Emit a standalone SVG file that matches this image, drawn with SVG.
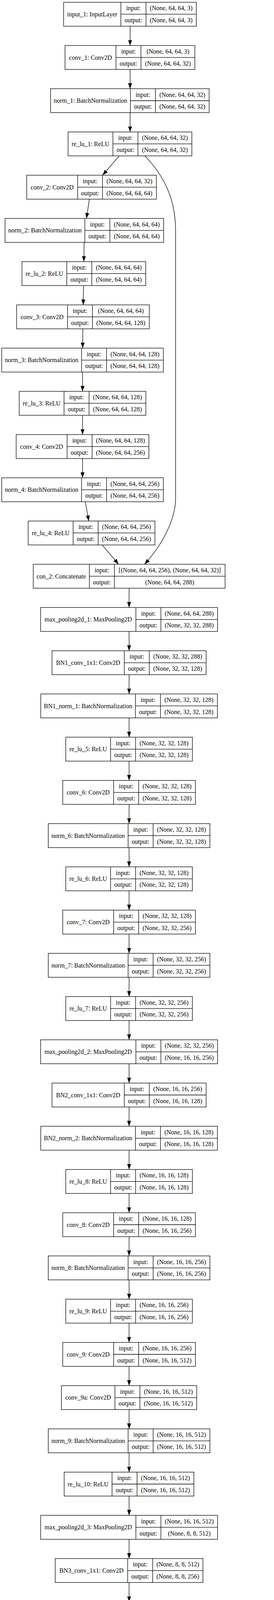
<svg xmlns="http://www.w3.org/2000/svg" width="701" height="6935" viewBox="0 0 701 6935">
<style>
.node rect{fill:#fff;stroke:#000;stroke-width:1.3}
.node path{fill:none;stroke:#000;stroke-width:1.3}
text{font-family:"Liberation Serif","Times New Roman",serif;font-size:16px;text-anchor:middle;fill:#000}
#edges path{fill:none;stroke:#000;stroke-width:1.3;marker-end:url(#arr)}
</style>
<defs>
<marker id="arr" viewBox="0 0 14 10" refX="14" refY="5" markerWidth="14" markerHeight="10" markerUnits="userSpaceOnUse" orient="auto"><path d="M0,0 L14,5 L0,10 z" fill="#000"/></marker>
</defs>
<rect x="0" y="0" width="701" height="6935" fill="#fff"/>
<g id="edges">
<path d="M332.8,67.1 V116.5"/>
<path d="M332.8,177.8 V227.1"/>
<path d="M332.8,288.4 V337.8"/>
<path d="M305.1,399.1 L262.6,448.5"/>
<path d="M370.6,399.1 C420,450 449.3,510 449.3,590 L449.3,1275 C449.3,1330 415,1395 369.8,1444.5"/>
<path d="M228.6,509.8 L221.2,559.2"/>
<path d="M215.2,620.5 L214.5,669.8"/>
<path d="M213.8,731.1 L213,780.5"/>
<path d="M211.9,841.8 L211.5,891.2"/>
<path d="M211.2,952.5 V1001.8"/>
<path d="M211.2,1063.1 V1112.5"/>
<path d="M211.2,1173.8 V1223.2"/>
<path d="M218.2,1284.5 L227.1,1333.8"/>
<path d="M261.5,1395.1 L303.3,1444.5"/>
<path d="M330.3,1505.8 V1555.2"/>
<path d="M330.3,1616.5 V1665.9"/>
<path d="M330.3,1727.2 V1776.5"/>
<path d="M330.3,1837.8 V1887.2"/>
<path d="M330.3,1948.5 V1997.9"/>
<path d="M330.3,2059.2 V2108.5"/>
<path d="M330.3,2169.8 V2219.2"/>
<path d="M330.3,2280.5 V2329.9"/>
<path d="M330.3,2391.2 V2440.5"/>
<path d="M330.3,2501.8 V2551.2"/>
<path d="M330.3,2612.5 V2661.9"/>
<path d="M330.3,2723.2 V2772.6"/>
<path d="M330.3,2833.9 V2883.2"/>
<path d="M330.3,2944.5 V2993.9"/>
<path d="M330.3,3055.2 V3104.6"/>
<path d="M330.3,3165.9 V3215.2"/>
<path d="M330.3,3276.5 V3325.9"/>
<path d="M330.3,3387.2 V3436.6"/>
<path d="M330.3,3497.9 V3547.2"/>
<path d="M330.3,3608.5 V3657.9"/>
<path d="M330.3,3719.2 V3768.6"/>
<path d="M330.3,3829.9 V3879.3"/>
<path d="M330.3,3940.6 V3989.9"/>
<path d="M330.3,4051.2 V4100.6"/>
<path d="M330.3,4161.9 V4211.3"/>
<path d="M303.3,4272.6 L260.7,4321.9"/>
<path d="M368.7,4272.6 C415,4320 447.3,4380 447.3,4460 L447.3,4925 C447.3,4985 415,5045 366.1,5096.6"/>
<path d="M226.3,4383.2 L219.7,4432.6"/>
<path d="M213.8,4493.9 V4543.3"/>
<path d="M213.8,4604.6 V4653.9"/>
<path d="M214.5,4715.2 V4764.6"/>
<path d="M214.5,4825.9 V4875.3"/>
<path d="M221.2,4936.6 L229.3,4985.9"/>
<path d="M262.6,5047.2 L303.3,5096.6"/>
<path d="M330.3,5157.9 V5207.3"/>
<path d="M330.3,5268.6 V5318.0"/>
<path d="M330.3,5379.3 V5428.6"/>
<path d="M330.3,5489.9 V5539.3"/>
<path d="M330.3,5600.6 V5650.0"/>
<path d="M330.3,5711.3 V5760.6"/>
<path d="M330.3,5821.9 V5871.3"/>
<path d="M330.3,5932.6 V5982.0"/>
<path d="M330.3,6043.3 V6092.6"/>
<path d="M330.3,6153.9 V6203.3"/>
<path d="M330.3,6264.6 V6314.0"/>
<path d="M330.3,6375.3 V6424.6"/>
<path d="M330.3,6485.9 V6535.3"/>
<path d="M330.3,6596.6 V6646.0"/>
<path d="M330.3,6707.3 V6756.7"/>
<path d="M330.3,6818.0 V6867.3"/>
</g>
<g id="input_1" class="node"><rect x="162.7" y="5.8" width="339.5" height="61.3"/><path d="M309.2,5.8 V67.1 M373.5,5.8 V67.1 M309.2,36.45 H502.2"/><text x="235.95" y="41.8">input_1: InputLayer</text><text x="341.35" y="26.3">input:</text><text x="341.35" y="57.0">output:</text><text x="437.85" y="26.3">(None, 64, 64, 3)</text><text x="437.85" y="57.0">(None, 64, 64, 3)</text></g>
<g id="conv_1" class="node"><rect x="166.4" y="116.5" width="332.1" height="61.3"/><path d="M296.6,116.5 V177.8 M360.6,116.5 V177.8 M296.6,147.15 H498.5"/><text x="231.5" y="152.5">conv_1: Conv2D</text><text x="328.6" y="137.0">input:</text><text x="328.6" y="167.7">output:</text><text x="429.55" y="137.0">(None, 64, 64, 3)</text><text x="429.55" y="167.7">(None, 64, 64, 32)</text></g>
<g id="norm_1" class="node"><rect x="129.4" y="227.1" width="405.7" height="61.3"/><path d="M333.6,227.1 V288.4 M397.6,227.1 V288.4 M333.6,257.75 H535.1"/><text x="231.5" y="263.1">norm_1: BatchNormalization</text><text x="365.6" y="247.6">input:</text><text x="365.6" y="278.3">output:</text><text x="466.35" y="247.6">(None, 64, 64, 32)</text><text x="466.35" y="278.3">(None, 64, 64, 32)</text></g>
<g id="re_lu_1" class="node"><rect x="174.2" y="337.8" width="316.6" height="61.3"/><path d="M288.8,337.8 V399.1 M352.8,337.8 V399.1 M288.8,368.45 H490.8"/><text x="231.5" y="373.8">re_lu_1: ReLU</text><text x="320.8" y="358.3">input:</text><text x="320.8" y="389.0">output:</text><text x="421.8" y="358.3">(None, 64, 64, 32)</text><text x="421.8" y="389.0">(None, 64, 64, 32)</text></g>
<g id="conv_2" class="node"><rect x="68.4" y="448.5" width="331.7" height="61.3"/><path d="M198.6,448.5 V509.8 M262.2,448.5 V509.8 M198.6,479.15 H400.1"/><text x="133.5" y="484.5">conv_2: Conv2D</text><text x="230.4" y="469.0">input:</text><text x="230.4" y="499.7">output:</text><text x="331.15" y="469.0">(None, 64, 64, 32)</text><text x="331.15" y="499.7">(None, 64, 64, 64)</text></g>
<g id="norm_2" class="node"><rect x="12.9" y="559.2" width="405.7" height="61.3"/><path d="M217.1,559.2 V620.5 M281.1,559.2 V620.5 M217.1,589.85 H418.6"/><text x="115.0" y="595.2">norm_2: BatchNormalization</text><text x="249.1" y="579.7">input:</text><text x="249.1" y="610.4">output:</text><text x="349.85" y="579.7">(None, 64, 64, 64)</text><text x="349.85" y="610.4">(None, 64, 64, 64)</text></g>
<g id="re_lu_2" class="node"><rect x="56.2" y="669.8" width="316.6" height="61.3"/><path d="M170.8,669.8 V731.1 M234.8,669.8 V731.1 M170.8,700.45 H372.8"/><text x="113.5" y="705.8">re_lu_2: ReLU</text><text x="202.8" y="690.3">input:</text><text x="202.8" y="721.0">output:</text><text x="303.8" y="690.3">(None, 64, 64, 64)</text><text x="303.8" y="721.0">(None, 64, 64, 64)</text></g>
<g id="conv_3" class="node"><rect x="42.5" y="780.5" width="339.5" height="61.3"/><path d="M172.7,780.5 V841.8 M236.5,780.5 V841.8 M172.7,811.15 H382.0"/><text x="107.6" y="816.5">conv_3: Conv2D</text><text x="204.6" y="801.0">input:</text><text x="204.6" y="831.7">output:</text><text x="309.25" y="801.0">(None, 64, 64, 64)</text><text x="309.25" y="831.7">(None, 64, 64, 128)</text></g>
<g id="norm_3" class="node"><rect x="4.4" y="891.2" width="413.5" height="61.3"/><path d="M208.6,891.2 V952.5 M272.6,891.2 V952.5 M208.6,921.85 H417.9"/><text x="106.5" y="927.2">norm_3: BatchNormalization</text><text x="240.6" y="911.7">input:</text><text x="240.6" y="942.4">output:</text><text x="345.25" y="911.7">(None, 64, 64, 128)</text><text x="345.25" y="942.4">(None, 64, 64, 128)</text></g>
<g id="re_lu_3" class="node"><rect x="49.2" y="1001.8" width="324" height="61.3"/><path d="M163.8,1001.8 V1063.1 M227.8,1001.8 V1063.1 M163.8,1032.45 H373.2"/><text x="106.5" y="1037.8">re_lu_3: ReLU</text><text x="195.8" y="1022.3">input:</text><text x="195.8" y="1053.0">output:</text><text x="300.5" y="1022.3">(None, 64, 64, 128)</text><text x="300.5" y="1053.0">(None, 64, 64, 128)</text></g>
<g id="conv_4" class="node"><rect x="41.4" y="1112.5" width="339.5" height="61.3"/><path d="M171.6,1112.5 V1173.8 M235.6,1112.5 V1173.8 M171.6,1143.15 H380.9"/><text x="106.5" y="1148.5">conv_4: Conv2D</text><text x="203.6" y="1133.0">input:</text><text x="203.6" y="1163.7">output:</text><text x="308.25" y="1133.0">(None, 64, 64, 128)</text><text x="308.25" y="1163.7">(None, 64, 64, 256)</text></g>
<g id="norm_4" class="node"><rect x="4.4" y="1223.2" width="413.5" height="61.3"/><path d="M208.6,1223.2 V1284.5 M272.6,1223.2 V1284.5 M208.6,1253.85 H417.9"/><text x="106.5" y="1259.2">norm_4: BatchNormalization</text><text x="240.6" y="1243.7">input:</text><text x="240.6" y="1274.4">output:</text><text x="345.25" y="1243.7">(None, 64, 64, 256)</text><text x="345.25" y="1274.4">(None, 64, 64, 256)</text></g>
<g id="re_lu_4" class="node"><rect x="72.1" y="1333.8" width="324.3" height="61.3"/><path d="M187.1,1333.8 V1395.1 M251.1,1333.8 V1395.1 M187.1,1364.45 H396.4"/><text x="129.6" y="1369.8">re_lu_4: ReLU</text><text x="219.1" y="1354.3">input:</text><text x="219.1" y="1385.0">output:</text><text x="323.75" y="1354.3">(None, 64, 64, 256)</text><text x="323.75" y="1385.0">(None, 64, 64, 256)</text></g>
<g id="con_2" class="node"><rect x="85.1" y="1444.5" width="490.7" height="61.3"/><path d="M228.6,1444.5 V1505.8 M292.6,1444.5 V1505.8 M228.6,1475.15 H575.8"/><text x="156.85" y="1480.5">con_2: Concatenate</text><text x="260.6" y="1465.0">input:</text><text x="260.6" y="1495.7">output:</text><text x="434.2" y="1465.0">[(None, 64, 64, 256), (None, 64, 64, 32)]</text><text x="434.2" y="1495.7">(None, 64, 64, 288)</text></g>
<g id="max_pooling2d_1" class="node"><rect x="103.9" y="1555.2" width="452.7" height="61.3"/><path d="M347.6,1555.2 V1616.5 M411.6,1555.2 V1616.5 M347.6,1585.85 H556.6"/><text x="225.75" y="1591.2">max_pooling2d_1: MaxPooling2D</text><text x="379.6" y="1575.7">input:</text><text x="379.6" y="1606.4">output:</text><text x="484.1" y="1575.7">(None, 64, 64, 288)</text><text x="484.1" y="1606.4">(None, 32, 32, 288)</text></g>
<g id="BN1_conv_1x1" class="node"><rect x="133.1" y="1665.9" width="394.3" height="61.3"/><path d="M318.0,1665.9 V1727.2 M382.0,1665.9 V1727.2 M318.0,1696.55 H527.4"/><text x="225.55" y="1701.9">BN1_conv_1x1: Conv2D</text><text x="350.0" y="1686.4">input:</text><text x="350.0" y="1717.1">output:</text><text x="454.7" y="1686.4">(None, 32, 32, 288)</text><text x="454.7" y="1717.1">(None, 32, 32, 128)</text></g>
<g id="BN1_norm_1" class="node"><rect x="104.3" y="1776.5" width="451.9" height="61.3"/><path d="M346.5,1776.5 V1837.8 M410.5,1776.5 V1837.8 M346.5,1807.15 H556.2"/><text x="225.4" y="1812.5">BN1_norm_1: BatchNormalization</text><text x="378.5" y="1797.0">input:</text><text x="378.5" y="1827.7">output:</text><text x="483.35" y="1797.0">(None, 32, 32, 128)</text><text x="483.35" y="1827.7">(None, 32, 32, 128)</text></g>
<g id="re_lu_5" class="node"><rect x="168.3" y="1887.2" width="323.9" height="61.3"/><path d="M282.9,1887.2 V1948.5 M346.9,1887.2 V1948.5 M282.9,1917.85 H492.2"/><text x="225.6" y="1923.2">re_lu_5: ReLU</text><text x="314.9" y="1907.7">input:</text><text x="314.9" y="1938.4">output:</text><text x="419.55" y="1907.7">(None, 32, 32, 128)</text><text x="419.55" y="1938.4">(None, 32, 32, 128)</text></g>
<g id="conv_6" class="node"><rect x="160.5" y="1997.9" width="339.5" height="61.3"/><path d="M290.7,1997.9 V2059.2 M354.7,1997.9 V2059.2 M290.7,2028.55 H500.0"/><text x="225.6" y="2033.9">conv_6: Conv2D</text><text x="322.7" y="2018.4">input:</text><text x="322.7" y="2049.1">output:</text><text x="427.35" y="2018.4">(None, 32, 32, 128)</text><text x="427.35" y="2049.1">(None, 32, 32, 128)</text></g>
<g id="norm_6" class="node"><rect x="123.5" y="2108.5" width="413.5" height="61.3"/><path d="M327.7,2108.5 V2169.8 M391.7,2108.5 V2169.8 M327.7,2139.15 H537.0"/><text x="225.6" y="2144.5">norm_6: BatchNormalization</text><text x="359.7" y="2129.0">input:</text><text x="359.7" y="2159.7">output:</text><text x="464.35" y="2129.0">(None, 32, 32, 128)</text><text x="464.35" y="2159.7">(None, 32, 32, 128)</text></g>
<g id="re_lu_6" class="node"><rect x="168.3" y="2219.2" width="323.9" height="61.3"/><path d="M282.9,2219.2 V2280.5 M346.9,2219.2 V2280.5 M282.9,2249.85 H492.2"/><text x="225.6" y="2255.2">re_lu_6: ReLU</text><text x="314.9" y="2239.7">input:</text><text x="314.9" y="2270.4">output:</text><text x="419.55" y="2239.7">(None, 32, 32, 128)</text><text x="419.55" y="2270.4">(None, 32, 32, 128)</text></g>
<g id="conv_7" class="node"><rect x="160.5" y="2329.9" width="339.5" height="61.3"/><path d="M290.7,2329.9 V2391.2 M354.7,2329.9 V2391.2 M290.7,2360.55 H500.0"/><text x="225.6" y="2365.9">conv_7: Conv2D</text><text x="322.7" y="2350.4">input:</text><text x="322.7" y="2381.1">output:</text><text x="427.35" y="2350.4">(None, 32, 32, 128)</text><text x="427.35" y="2381.1">(None, 32, 32, 256)</text></g>
<g id="norm_7" class="node"><rect x="123.5" y="2440.5" width="413.5" height="61.3"/><path d="M327.7,2440.5 V2501.8 M391.7,2440.5 V2501.8 M327.7,2471.15 H537.0"/><text x="225.6" y="2476.5">norm_7: BatchNormalization</text><text x="359.7" y="2461.0">input:</text><text x="359.7" y="2491.7">output:</text><text x="464.35" y="2461.0">(None, 32, 32, 256)</text><text x="464.35" y="2491.7">(None, 32, 32, 256)</text></g>
<g id="re_lu_7" class="node"><rect x="168.3" y="2551.2" width="323.9" height="61.3"/><path d="M282.9,2551.2 V2612.5 M346.9,2551.2 V2612.5 M282.9,2581.85 H492.2"/><text x="225.6" y="2587.2">re_lu_7: ReLU</text><text x="314.9" y="2571.7">input:</text><text x="314.9" y="2602.4">output:</text><text x="419.55" y="2571.7">(None, 32, 32, 256)</text><text x="419.55" y="2602.4">(None, 32, 32, 256)</text></g>
<g id="max_pooling2d_2" class="node"><rect x="103.9" y="2661.9" width="452.7" height="61.3"/><path d="M347.6,2661.9 V2723.2 M411.6,2661.9 V2723.2 M347.6,2692.55 H556.6"/><text x="225.75" y="2697.9">max_pooling2d_2: MaxPooling2D</text><text x="379.6" y="2682.4">input:</text><text x="379.6" y="2713.1">output:</text><text x="484.1" y="2682.4">(None, 32, 32, 256)</text><text x="484.1" y="2713.1">(None, 16, 16, 256)</text></g>
<g id="BN2_conv_1x1" class="node"><rect x="133.1" y="2772.6" width="394.3" height="61.3"/><path d="M318.0,2772.6 V2833.9 M382.0,2772.6 V2833.9 M318.0,2803.25 H527.4"/><text x="225.55" y="2808.6">BN2_conv_1x1: Conv2D</text><text x="350.0" y="2793.1">input:</text><text x="350.0" y="2823.8">output:</text><text x="454.7" y="2793.1">(None, 16, 16, 256)</text><text x="454.7" y="2823.8">(None, 16, 16, 128)</text></g>
<g id="BN2_norm_2" class="node"><rect x="104.3" y="2883.2" width="451.9" height="61.3"/><path d="M346.5,2883.2 V2944.5 M410.5,2883.2 V2944.5 M346.5,2913.85 H556.2"/><text x="225.4" y="2919.2">BN2_norm_2: BatchNormalization</text><text x="378.5" y="2903.7">input:</text><text x="378.5" y="2934.4">output:</text><text x="483.35" y="2903.7">(None, 16, 16, 128)</text><text x="483.35" y="2934.4">(None, 16, 16, 128)</text></g>
<g id="re_lu_8" class="node"><rect x="168.3" y="2993.9" width="323.9" height="61.3"/><path d="M282.9,2993.9 V3055.2 M346.9,2993.9 V3055.2 M282.9,3024.55 H492.2"/><text x="225.6" y="3029.9">re_lu_8: ReLU</text><text x="314.9" y="3014.4">input:</text><text x="314.9" y="3045.1">output:</text><text x="419.55" y="3014.4">(None, 16, 16, 128)</text><text x="419.55" y="3045.1">(None, 16, 16, 128)</text></g>
<g id="conv_8" class="node"><rect x="160.5" y="3104.6" width="339.5" height="61.3"/><path d="M290.7,3104.6 V3165.9 M354.7,3104.6 V3165.9 M290.7,3135.25 H500.0"/><text x="225.6" y="3140.6">conv_8: Conv2D</text><text x="322.7" y="3125.1">input:</text><text x="322.7" y="3155.8">output:</text><text x="427.35" y="3125.1">(None, 16, 16, 128)</text><text x="427.35" y="3155.8">(None, 16, 16, 256)</text></g>
<g id="norm_8" class="node"><rect x="123.5" y="3215.2" width="413.5" height="61.3"/><path d="M327.7,3215.2 V3276.5 M391.7,3215.2 V3276.5 M327.7,3245.85 H537.0"/><text x="225.6" y="3251.2">norm_8: BatchNormalization</text><text x="359.7" y="3235.7">input:</text><text x="359.7" y="3266.4">output:</text><text x="464.35" y="3235.7">(None, 16, 16, 256)</text><text x="464.35" y="3266.4">(None, 16, 16, 256)</text></g>
<g id="re_lu_9" class="node"><rect x="168.3" y="3325.9" width="323.9" height="61.3"/><path d="M282.9,3325.9 V3387.2 M346.9,3325.9 V3387.2 M282.9,3356.55 H492.2"/><text x="225.6" y="3361.9">re_lu_9: ReLU</text><text x="314.9" y="3346.4">input:</text><text x="314.9" y="3377.1">output:</text><text x="419.55" y="3346.4">(None, 16, 16, 256)</text><text x="419.55" y="3377.1">(None, 16, 16, 256)</text></g>
<g id="conv_9" class="node"><rect x="160.5" y="3436.6" width="339.5" height="61.3"/><path d="M290.7,3436.6 V3497.9 M354.7,3436.6 V3497.9 M290.7,3467.25 H500.0"/><text x="225.6" y="3472.6">conv_9: Conv2D</text><text x="322.7" y="3457.1">input:</text><text x="322.7" y="3487.8">output:</text><text x="427.35" y="3457.1">(None, 16, 16, 256)</text><text x="427.35" y="3487.8">(None, 16, 16, 512)</text></g>
<g id="conv_9a" class="node"><rect x="157.2" y="3547.2" width="346.1" height="61.3"/><path d="M294.0,3547.2 V3608.5 M358.0,3547.2 V3608.5 M294.0,3577.85 H503.3"/><text x="225.6" y="3583.2">conv_9a: Conv2D</text><text x="326.0" y="3567.7">input:</text><text x="326.0" y="3598.4">output:</text><text x="430.65" y="3567.7">(None, 16, 16, 512)</text><text x="430.65" y="3598.4">(None, 16, 16, 512)</text></g>
<g id="norm_9" class="node"><rect x="123.5" y="3657.9" width="413.5" height="61.3"/><path d="M327.7,3657.9 V3719.2 M391.7,3657.9 V3719.2 M327.7,3688.55 H537.0"/><text x="225.6" y="3693.9">norm_9: BatchNormalization</text><text x="359.7" y="3678.4">input:</text><text x="359.7" y="3709.1">output:</text><text x="464.35" y="3678.4">(None, 16, 16, 512)</text><text x="464.35" y="3709.1">(None, 16, 16, 512)</text></g>
<g id="re_lu_10" class="node"><rect x="164.2" y="3768.6" width="331.7" height="61.3"/><path d="M286.6,3768.6 V3829.9 M350.6,3768.6 V3829.9 M286.6,3799.25 H495.9"/><text x="225.4" y="3804.6">re_lu_10: ReLU</text><text x="318.6" y="3789.1">input:</text><text x="318.6" y="3819.8">output:</text><text x="423.25" y="3789.1">(None, 16, 16, 512)</text><text x="423.25" y="3819.8">(None, 16, 16, 512)</text></g>
<g id="max_pooling2d_3" class="node"><rect x="103.9" y="3879.3" width="452.7" height="61.3"/><path d="M347.6,3879.3 V3940.6 M411.6,3879.3 V3940.6 M347.6,3909.95 H556.6"/><text x="225.75" y="3915.3">max_pooling2d_3: MaxPooling2D</text><text x="379.6" y="3899.8">input:</text><text x="379.6" y="3930.5">output:</text><text x="484.1" y="3899.8">(None, 16, 16, 512)</text><text x="484.1" y="3930.5">(None, 8, 8, 512)</text></g>
<g id="BN3_conv_1x1" class="node"><rect x="141.3" y="3989.9" width="377.9" height="61.3"/><path d="M326.6,3989.9 V4051.2 M390.6,3989.9 V4051.2 M326.6,4020.55 H519.2"/><text x="233.95" y="4025.9">BN3_conv_1x1: Conv2D</text><text x="358.6" y="4010.4">input:</text><text x="358.6" y="4041.1">output:</text><text x="454.9" y="4010.4">(None, 8, 8, 512)</text><text x="454.9" y="4041.1">(None, 8, 8, 256)</text></g>
<g id="BN3_norm_3" class="node"><rect x="112.4" y="4100.6" width="435.3" height="61.3"/><path d="M355.0,4100.6 V4161.9 M419.0,4100.6 V4161.9 M355.0,4131.25 H547.7"/><text x="233.7" y="4136.6">BN3_norm_3: BatchNormalization</text><text x="387.0" y="4121.1">input:</text><text x="387.0" y="4151.8">output:</text><text x="483.35" y="4121.1">(None, 8, 8, 256)</text><text x="483.35" y="4151.8">(None, 8, 8, 256)</text></g>
<g id="re_lu_11" class="node"><rect x="173.1" y="4211.3" width="314.3" height="61.3"/><path d="M294.8,4211.3 V4272.6 M358.8,4211.3 V4272.6 M294.8,4241.95 H487.4"/><text x="233.95" y="4247.3">re_lu_11: ReLU</text><text x="326.8" y="4231.8">input:</text><text x="326.8" y="4262.5">output:</text><text x="423.1" y="4231.8">(None, 8, 8, 256)</text><text x="423.1" y="4262.5">(None, 8, 8, 256)</text></g>
<g id="conv_10" class="node"><rect x="66.6" y="4321.9" width="331" height="61.3"/><path d="M204.5,4321.9 V4383.2 M268.5,4321.9 V4383.2 M204.5,4352.55 H397.6"/><text x="135.55" y="4357.9">conv_10: Conv2D</text><text x="236.5" y="4342.4">input:</text><text x="236.5" y="4373.1">output:</text><text x="333.05" y="4342.4">(None, 8, 8, 256)</text><text x="333.05" y="4373.1">(None, 8, 8, 256)</text></g>
<g id="norm_10" class="node"><rect x="11.1" y="4432.6" width="404.6" height="61.3"/><path d="M222.6,4432.6 V4493.9 M286.6,4432.6 V4493.9 M222.6,4463.25 H415.7"/><text x="116.85" y="4468.6">norm_10: BatchNormalization</text><text x="254.6" y="4453.1">input:</text><text x="254.6" y="4483.8">output:</text><text x="351.15" y="4453.1">(None, 8, 8, 256)</text><text x="351.15" y="4483.8">(None, 8, 8, 256)</text></g>
<g id="re_lu_12" class="node"><rect x="56.6" y="4543.3" width="315.4" height="61.3"/><path d="M179.0,4543.3 V4604.6 M243.0,4543.3 V4604.6 M179.0,4573.95 H372.0"/><text x="117.8" y="4579.3">re_lu_12: ReLU</text><text x="211.0" y="4563.8">input:</text><text x="211.0" y="4594.5">output:</text><text x="307.5" y="4563.8">(None, 8, 8, 256)</text><text x="307.5" y="4594.5">(None, 8, 8, 256)</text></g>
<g id="conv_11" class="node"><rect x="49.2" y="4653.9" width="330.6" height="61.3"/><path d="M187.1,4653.9 V4715.2 M251.1,4653.9 V4715.2 M187.1,4684.55 H379.8"/><text x="118.15" y="4689.9">conv_11: Conv2D</text><text x="219.1" y="4674.4">input:</text><text x="219.1" y="4705.1">output:</text><text x="315.45" y="4674.4">(None, 8, 8, 256)</text><text x="315.45" y="4705.1">(None, 8, 8, 512)</text></g>
<g id="conv_11a" class="node"><rect x="45.9" y="4764.6" width="337.2" height="61.3"/><path d="M190.1,4764.6 V4825.9 M254.1,4764.6 V4825.9 M190.1,4795.25 H383.1"/><text x="118.0" y="4800.6">conv_11a: Conv2D</text><text x="222.1" y="4785.1">input:</text><text x="222.1" y="4815.8">output:</text><text x="318.6" y="4785.1">(None, 8, 8, 512)</text><text x="318.6" y="4815.8">(None, 8, 8, 512)</text></g>
<g id="norm_11" class="node"><rect x="12.9" y="4875.3" width="403.1" height="61.3"/><path d="M223.4,4875.3 V4936.6 M287.4,4875.3 V4936.6 M223.4,4905.95 H416.0"/><text x="118.15" y="4911.3">norm_11: BatchNormalization</text><text x="255.4" y="4895.8">input:</text><text x="255.4" y="4926.5">output:</text><text x="351.7" y="4895.8">(None, 8, 8, 512)</text><text x="351.7" y="4926.5">(None, 8, 8, 512)</text></g>
<g id="re_lu_13" class="node"><rect x="78.8" y="4985.9" width="315.1" height="61.3"/><path d="M201.2,4985.9 V5047.2 M265.2,4985.9 V5047.2 M201.2,5016.55 H393.9"/><text x="140.0" y="5021.9">re_lu_13: ReLU</text><text x="233.2" y="5006.4">input:</text><text x="233.2" y="5037.1">output:</text><text x="329.55" y="5006.4">(None, 8, 8, 512)</text><text x="329.55" y="5037.1">(None, 8, 8, 512)</text></g>
<g id="con_5" class="node"><rect x="97.6" y="5096.6" width="465.3" height="61.3"/><path d="M241.1,5096.6 V5157.9 M305.1,5096.6 V5157.9 M241.1,5127.25 H562.9"/><text x="169.35" y="5132.6">con_5: Concatenate</text><text x="273.1" y="5117.1">input:</text><text x="273.1" y="5147.8">output:</text><text x="434.0" y="5117.1">[(None, 8, 8, 256), (None, 8, 8, 512)]</text><text x="434.0" y="5147.8">(None, 8, 8, 768)</text></g>
<g id="max_pooling2d_4" class="node"><rect x="112.1" y="5207.3" width="436.3" height="61.3"/><path d="M355.8,5207.3 V5268.6 M419.8,5207.3 V5268.6 M355.8,5237.95 H548.4"/><text x="233.95" y="5243.3">max_pooling2d_4: MaxPooling2D</text><text x="387.8" y="5227.8">input:</text><text x="387.8" y="5258.5">output:</text><text x="484.1" y="5227.8">(None, 8, 8, 768)</text><text x="484.1" y="5258.5">(None, 4, 4, 768)</text></g>
<g id="BN4_conv_1x1" class="node"><rect x="141.3" y="5318.0" width="377.9" height="61.3"/><path d="M326.6,5318.0 V5379.3 M390.6,5318.0 V5379.3 M326.6,5348.65 H519.2"/><text x="233.95" y="5354.0">BN4_conv_1x1: Conv2D</text><text x="358.6" y="5338.5">input:</text><text x="358.6" y="5369.2">output:</text><text x="454.9" y="5338.5">(None, 4, 4, 768)</text><text x="454.9" y="5369.2">(None, 4, 4, 512)</text></g>
<g id="BN4_norm_4" class="node"><rect x="112.4" y="5428.6" width="435.3" height="61.3"/><path d="M355.0,5428.6 V5489.9 M419.0,5428.6 V5489.9 M355.0,5459.25 H547.7"/><text x="233.7" y="5464.6">BN4_norm_4: BatchNormalization</text><text x="387.0" y="5449.1">input:</text><text x="387.0" y="5479.8">output:</text><text x="483.35" y="5449.1">(None, 4, 4, 512)</text><text x="483.35" y="5479.8">(None, 4, 4, 512)</text></g>
<g id="re_lu_14" class="node"><rect x="172.7" y="5539.3" width="315.1" height="61.3"/><path d="M295.1,5539.3 V5600.6 M359.1,5539.3 V5600.6 M295.1,5569.95 H487.8"/><text x="233.9" y="5575.3">re_lu_14: ReLU</text><text x="327.1" y="5559.8">input:</text><text x="327.1" y="5590.5">output:</text><text x="423.45" y="5559.8">(None, 4, 4, 512)</text><text x="423.45" y="5590.5">(None, 4, 4, 512)</text></g>
<g id="conv_12" class="node"><rect x="164.9" y="5650.0" width="330.7" height="61.3"/><path d="M302.5,5650.0 V5711.3 M366.5,5650.0 V5711.3 M302.5,5680.65 H495.6"/><text x="233.7" y="5686.0">conv_12: Conv2D</text><text x="334.5" y="5670.5">input:</text><text x="334.5" y="5701.2">output:</text><text x="431.05" y="5670.5">(None, 4, 4, 512)</text><text x="431.05" y="5701.2">(None, 4, 4, 256)</text></g>
<g id="conv_12a" class="node"><rect x="161.6" y="5760.6" width="337.3" height="61.3"/><path d="M306.2,5760.6 V5821.9 M370.2,5760.6 V5821.9 M306.2,5791.25 H498.9"/><text x="233.9" y="5796.6">conv_12a: Conv2D</text><text x="338.2" y="5781.1">input:</text><text x="338.2" y="5811.8">output:</text><text x="434.55" y="5781.1">(None, 4, 4, 256)</text><text x="434.55" y="5811.8">(None, 4, 4, 256)</text></g>
<g id="norm_12" class="node"><rect x="128.0" y="5871.3" width="404.5" height="61.3"/><path d="M339.5,5871.3 V5932.6 M403.5,5871.3 V5932.6 M339.5,5901.95 H532.5"/><text x="233.75" y="5907.3">norm_12: BatchNormalization</text><text x="371.5" y="5891.8">input:</text><text x="371.5" y="5922.5">output:</text><text x="468.0" y="5891.8">(None, 4, 4, 256)</text><text x="468.0" y="5922.5">(None, 4, 4, 256)</text></g>
<g id="re_lu_15" class="node"><rect x="172.7" y="5982.0" width="315.1" height="61.3"/><path d="M295.1,5982.0 V6043.3 M359.1,5982.0 V6043.3 M295.1,6012.65 H487.8"/><text x="233.9" y="6018.0">re_lu_15: ReLU</text><text x="327.1" y="6002.5">input:</text><text x="327.1" y="6033.2">output:</text><text x="423.45" y="6002.5">(None, 4, 4, 256)</text><text x="423.45" y="6033.2">(None, 4, 4, 256)</text></g>
<g id="conv_13" class="node"><rect x="164.9" y="6092.6" width="330.7" height="61.3"/><path d="M302.5,6092.6 V6153.9 M366.5,6092.6 V6153.9 M302.5,6123.25 H495.6"/><text x="233.7" y="6128.6">conv_13: Conv2D</text><text x="334.5" y="6113.1">input:</text><text x="334.5" y="6143.8">output:</text><text x="431.05" y="6113.1">(None, 4, 4, 256)</text><text x="431.05" y="6143.8">(None, 4, 4, 256)</text></g>
<g id="norm_13" class="node"><rect x="128.0" y="6203.3" width="404.5" height="61.3"/><path d="M339.5,6203.3 V6264.6 M403.5,6203.3 V6264.6 M339.5,6233.95 H532.5"/><text x="233.75" y="6239.3">norm_13: BatchNormalization</text><text x="371.5" y="6223.8">input:</text><text x="371.5" y="6254.5">output:</text><text x="468.0" y="6223.8">(None, 4, 4, 256)</text><text x="468.0" y="6254.5">(None, 4, 4, 256)</text></g>
<g id="re_lu_16" class="node"><rect x="172.7" y="6314.0" width="315.1" height="61.3"/><path d="M295.1,6314.0 V6375.3 M359.1,6314.0 V6375.3 M295.1,6344.65 H487.8"/><text x="233.9" y="6350.0">re_lu_16: ReLU</text><text x="327.1" y="6334.5">input:</text><text x="327.1" y="6365.2">output:</text><text x="423.45" y="6334.5">(None, 4, 4, 256)</text><text x="423.45" y="6365.2">(None, 4, 4, 256)</text></g>
<g id="max_pooling2d_5" class="node"><rect x="112.1" y="6424.6" width="436.3" height="61.3"/><path d="M355.8,6424.6 V6485.9 M419.8,6424.6 V6485.9 M355.8,6455.25 H548.4"/><text x="233.95" y="6460.6">max_pooling2d_5: MaxPooling2D</text><text x="387.8" y="6445.1">input:</text><text x="387.8" y="6475.8">output:</text><text x="484.1" y="6445.1">(None, 4, 4, 256)</text><text x="484.1" y="6475.8">(None, 2, 2, 256)</text></g>
<g id="conv_flat" class="node"><rect x="163.1" y="6535.3" width="334.3" height="61.3"/><path d="M304.4,6535.3 V6596.6 M368.4,6535.3 V6596.6 M304.4,6565.95 H497.4"/><text x="233.75" y="6571.3">conv_flat: Conv2D</text><text x="336.4" y="6555.8">input:</text><text x="336.4" y="6586.5">output:</text><text x="432.9" y="6555.8">(None, 2, 2, 256)</text><text x="432.9" y="6586.5">(None, 1, 1, 200)</text></g>
<g id="norm_flat" class="node"><rect x="126.5" y="6646.0" width="407.9" height="61.3"/><path d="M341.3,6646.0 V6707.3 M405.3,6646.0 V6707.3 M341.3,6676.65 H534.4"/><text x="233.9" y="6682.0">norm_flat: BatchNormalization</text><text x="373.3" y="6666.5">input:</text><text x="373.3" y="6697.2">output:</text><text x="469.85" y="6666.5">(None, 1, 1, 200)</text><text x="469.85" y="6697.2">(None, 1, 1, 200)</text></g>
<g id="flatten_1" class="node"><rect x="171.2" y="6756.7" width="317.7" height="61.3"/><path d="M296.2,6756.7 V6818.0 M360.2,6756.7 V6818.0 M296.2,6787.35 H488.9"/><text x="233.7" y="6792.7">flatten_1: Flatten</text><text x="328.2" y="6777.2">input:</text><text x="328.2" y="6807.9">output:</text><text x="424.55" y="6777.2">(None, 1, 1, 200)</text><text x="424.55" y="6807.9">(None, 200)</text></g>
<g id="activation_1" class="node"><rect x="165.3" y="6867.3" width="329.9" height="61.3"/><path d="M335.1,6867.3 V6928.6 M399.1,6867.3 V6928.6 M335.1,6897.95 H495.2"/><text x="250.2" y="6903.3">activation_1: Activation</text><text x="367.1" y="6887.8">input:</text><text x="367.1" y="6918.5">output:</text><text x="447.15" y="6887.8">(None, 200)</text><text x="447.15" y="6918.5">(None, 200)</text></g>
</svg>
